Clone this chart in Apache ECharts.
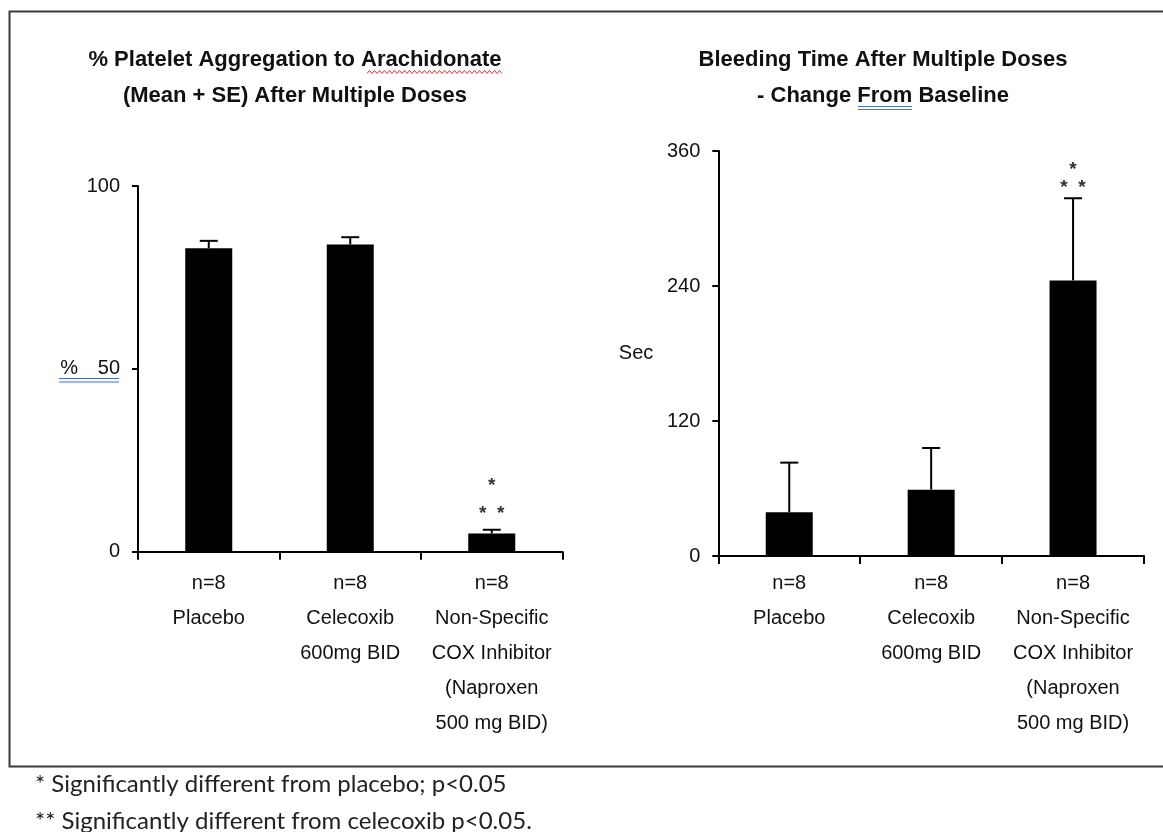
<!DOCTYPE html>
<html>
<head>
<meta charset="utf-8">
<script src="https://cdn.jsdelivr.net/npm/echarts@6/dist/echarts.min.js"></script>
<style>
html,body{margin:0;padding:0;background:#fff;}
#chart{width:1163px;height:832px;}
</style>
</head>
<body>
<div id="chart"></div>
<script>
// ---- data ----
const groupN = ['n=8', 'n=8', 'n=8'];
const groupNames = ['Placebo', 'Celecoxib\n600mg BID', 'Non-Specific\nCOX Inhibitor\n(Naproxen\n500 mg BID)'];
const aggMean = [83, 84, 5];
const aggSE = [2, 2, 1];
const bleedMean = [39, 59, 245];
const bleedSE = [44, 37, 73];
const stars = [0, 0, 1]; // 1 = "*" vs placebo and "**" vs celecoxib
const aggTicks = { min: 0, max: 100, interval: 50 };
const bleedTicks = { min: 0, max: 360, interval: 120 };
const titleLeft = '% Platelet Aggregation to Arachidonate\n(Mean + SE) After Multiple Doses';
const titleRight = 'Bleeding Time After Multiple Doses\n- Change From Baseline';
const footnotes = ['* Significantly different from placebo; p<0.05', '** Significantly different from celecoxib p<0.05.'];

const categories = groupN.map((n, i) => n + '\n' + groupNames[i]);

const SANS = "'Liberation Sans',Arial,sans-serif";
const chart = echarts.init(document.getElementById('chart'), null, { renderer: 'canvas' });

function errRender(starOff) {
  return function (params, api) {
    const x = api.value(0), m = api.value(1), se = api.value(2), st = api.value(3);
    const base = api.coord([x, m]);
    const top = api.coord([x, m + se]);
    const children = [
      { type: 'line', shape: { x1: base[0], y1: base[1], x2: top[0], y2: top[1] }, style: { stroke: '#000', lineWidth: 2 } },
      { type: 'line', shape: { x1: top[0] - 9, y1: top[1], x2: top[0] + 9, y2: top[1] }, style: { stroke: '#000', lineWidth: 2 } }
    ];
    if (st) {
      const sty = { fill: '#333', font: 'bold 19px "Liberation Sans", sans-serif', textAlign: 'center', textVerticalAlign: 'middle' };
      children.push({ type: 'text', style: Object.assign({ text: '*', x: top[0], y: top[1] - starOff[0] }, sty) });
      children.push({ type: 'text', style: Object.assign({ text: '*', x: top[0] - 9, y: top[1] - starOff[1] }, sty) });
      children.push({ type: 'text', style: Object.assign({ text: '*', x: top[0] + 9, y: top[1] - starOff[1] }, sty) });
    }
    return { type: 'group', children: children };
  };
}

const axisLineStyle = { color: '#000', width: 2 };

function xAxisCfg(gridIndex, margin) {
  return {
    type: 'category', gridIndex: gridIndex, data: categories,
    axisLine: { show: true, lineStyle: axisLineStyle },
    axisTick: { show: true, length: 8, lineStyle: { color: '#000', width: 2 } },
    axisLabel: { interval: 0, margin: margin, color: '#111', fontFamily: SANS, fontSize: 20, lineHeight: 35, align: 'center', verticalAlign: 'top' },
    splitLine: { show: false }
  };
}
function yAxisCfg(gridIndex, ticks, name, gap) {
  return {
    type: 'value', gridIndex: gridIndex, min: ticks.min, max: ticks.max, interval: ticks.interval,
    name: name, nameLocation: 'middle', nameRotate: 0, nameGap: gap,
    nameTextStyle: { color: '#111', fontFamily: SANS, fontSize: 20 },
    axisLine: { show: true, lineStyle: axisLineStyle },
    axisTick: { show: true, length: 6, lineStyle: { color: '#000', width: 2 } },
    axisLabel: { margin: 18, color: '#111', fontFamily: SANS, fontSize: 20 },
    splitLine: { show: false }
  };
}

// decorative spell-check wavy underline points
const wavy = [];
for (let x = 367, k = 0; x <= 503; x += 2.5, k++) wavy.push([x, 72 + (k % 2 ? -1.5 : 1.5)]);

const option = {
  backgroundColor: '#fff',
  animation: false,
  title: [
    { text: titleLeft, left: 295, top: 42, textAlign: 'center', padding: 0,
      textStyle: { fontFamily: SANS, fontWeight: 'bold', fontSize: 22, lineHeight: 36, color: '#111' } },
    { text: titleRight, left: 883, top: 42, textAlign: 'center', padding: 0,
      textStyle: { fontFamily: SANS, fontWeight: 'bold', fontSize: 22, lineHeight: 36, color: '#111' } }
  ],
  grid: [
    { left: 138, right: 600.5, top: 186, bottom: 280.3 },
    { left: 718.3, right: 19, top: 151, bottom: 276 }
  ],
  xAxis: [xAxisCfg(0, 14), xAxisCfg(1, 10)],
  yAxis: [yAxisCfg(0, aggTicks, '%', 60), yAxisCfg(1, bleedTicks, 'Sec', 65)],
  series: [
    { type: 'bar', xAxisIndex: 0, yAxisIndex: 0, data: aggMean, barWidth: 47, itemStyle: { color: '#000' } },
    { type: 'custom', xAxisIndex: 0, yAxisIndex: 0, renderItem: errRender([44, 16]), z: 5,
      data: aggMean.map((m, i) => [i, m, aggSE[i], stars[i]]) },
    { type: 'bar', xAxisIndex: 1, yAxisIndex: 1, data: bleedMean, barWidth: 47, itemStyle: { color: '#000' } },
    { type: 'custom', xAxisIndex: 1, yAxisIndex: 1, renderItem: errRender([28, 10]), z: 5,
      data: bleedMean.map((m, i) => [i, m, bleedSE[i], stars[i]]) }
  ],
  graphic: [
    { type: 'rect', shape: { x: 9.5, y: 11.5, width: 1170, height: 755 }, style: { fill: 'none', stroke: '#3a3a3a', lineWidth: 2 }, z: -1 },
    { type: 'text', left: 35, top: 772, style: { text: footnotes[0], font: "24px Lato, 'Open Sans', sans-serif", fill: '#222' } },
    { type: 'text', left: 35, top: 809, style: { text: footnotes[1], font: "24px Lato, 'Open Sans', sans-serif", fill: '#222' } },
    { type: 'line', shape: { x1: 59, y1: 378.5, x2: 119, y2: 378.5 }, style: { stroke: '#3f6fe0', lineWidth: 1 } },
    { type: 'line', shape: { x1: 59, y1: 382, x2: 119, y2: 382 }, style: { stroke: '#3f6fe0', lineWidth: 1 } },
    { type: 'line', shape: { x1: 858, y1: 106.5, x2: 912, y2: 106.5 }, style: { stroke: '#3f6fe0', lineWidth: 1 } },
    { type: 'line', shape: { x1: 858, y1: 109.5, x2: 912, y2: 109.5 }, style: { stroke: '#3f6fe0', lineWidth: 1 } },
    { type: 'polyline', shape: { points: wavy }, style: { stroke: '#e03030', lineWidth: 1, fill: 'none' } }
  ]
};
chart.setOption(option);
</script>
</body>
</html>
